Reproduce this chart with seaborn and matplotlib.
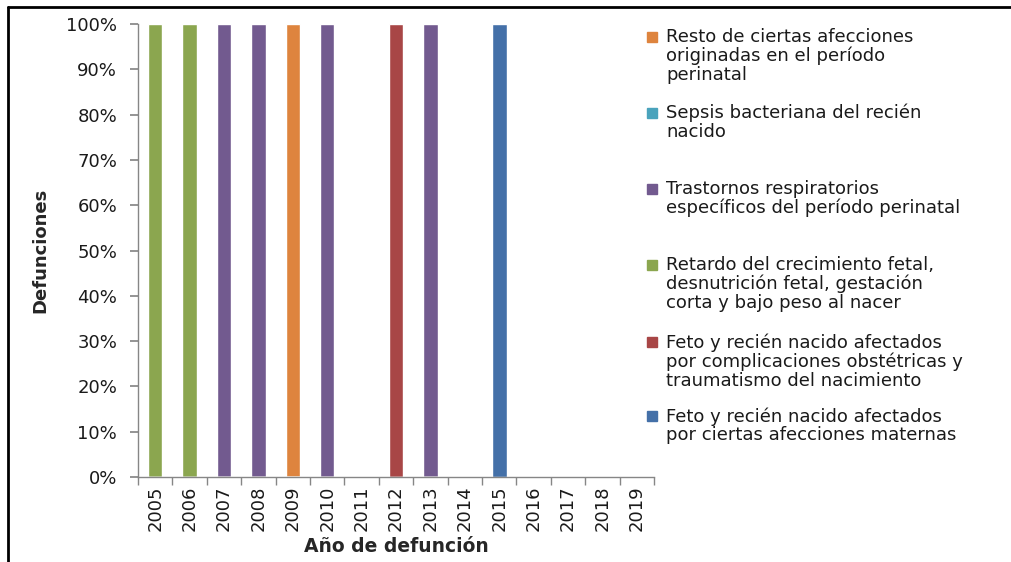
import numpy as np
import pandas as pd
import seaborn as sns
import matplotlib.pyplot as plt
from matplotlib.lines import Line2D
from matplotlib.patches import Rectangle
from matplotlib.ticker import PercentFormatter

years = [str(y) for y in range(2005, 2020)]

# defunciones por causa y año (stack order: bottom -> top)
feto_maternas = [0, 0, 0, 0, 0, 0, 0, 0, 0, 0, 1, 0, 0, 0, 0]
feto_complic = [0, 0, 0, 0, 0, 0, 0, 1, 0, 0, 0, 0, 0, 0, 0]
retardo = [1, 1, 0, 0, 0, 0, 0, 0, 0, 0, 0, 0, 0, 0, 0]
trastornos = [0, 0, 1, 1, 0, 1, 0, 0, 1, 0, 0, 0, 0, 0, 0]
sepsis = [0, 0, 0, 0, 0, 0, 0, 0, 0, 0, 0, 0, 0, 0, 0]
resto = [0, 0, 0, 0, 1, 0, 0, 0, 0, 0, 0, 0, 0, 0, 0]

labels = [
    "Feto y recién nacido afectados\npor ciertas afecciones maternas",
    "Feto y recién nacido afectados\npor complicaciones obstétricas y\ntraumatismo del nacimiento",
    "Retardo del crecimiento fetal,\ndesnutrición fetal, gestación\ncorta y bajo peso al nacer",
    "Trastornos respiratorios\nespecíficos del período perinatal",
    "Sepsis bacteriana del recién\nnacido",
    "Resto de ciertas afecciones\noriginadas en el período\nperinatal",
]
colors = ["#4470A8", "#A84646", "#8BA64F", "#725A8F", "#4AA3BC", "#DE843E"]

df = pd.DataFrame(
    {
        labels[0]: feto_maternas,
        labels[1]: feto_complic,
        labels[2]: retardo,
        labels[3]: trastornos,
        labels[4]: sepsis,
        labels[5]: resto,
    },
    index=years,
)
totals = df.sum(axis=1).replace(0, np.nan)
pct = df.div(totals, axis=0).fillna(0) * 100
cum = pct.cumsum(axis=1)

sns.set_theme(style="white")
plt.rcParams["font.family"] = ["DejaVu Sans"]

fig = plt.figure(figsize=(10.11, 5.62), dpi=100)
ax = fig.add_axes([0.1365, 0.1512, 0.5105, 0.8061])

# draw tallest cumulative first so lower segments sit on top
for i in range(len(labels) - 1, -1, -1):
    sns.barplot(x=years, y=cum.iloc[:, i].values, order=years, color=colors[i],
                width=0.42, saturation=1, ax=ax)

ax.set_ylim(0, 100)
ax.set_xlim(-0.5, len(years) - 0.5)
ax.set_yticks(np.arange(0, 101, 10))
ax.yaxis.set_major_formatter(PercentFormatter(decimals=0))
ax.set_xticks(range(len(years)))
ax.set_xticklabels(years, rotation=90)
ax.set_xticks(np.arange(-0.5, len(years), 1), minor=True)

for s in ["top", "right"]:
    ax.spines[s].set_visible(False)
for s in ["left", "bottom"]:
    ax.spines[s].set_color("#868686")
    ax.spines[s].set_linewidth(1)

ax.tick_params(axis="y", which="major", direction="out", length=6, color="#868686",
               left=True, labelsize=13, pad=9, labelcolor="#1a1a1a")
ax.tick_params(axis="x", which="major", length=0, labelsize=13, pad=6, labelcolor="#1a1a1a")
ax.tick_params(axis="x", which="minor", direction="out", length=6, color="#868686", bottom=True)

ax.set_xlabel("Año de defunción", fontsize=13.5, fontweight="bold", labelpad=4)
ax.set_ylabel("Defunciones", fontsize=13, fontweight="bold", labelpad=12)

# legend, top to bottom as in the original
leg_y = [37, 113, 189, 265, 342, 416]
W, H = 1011, 562
for k, i in enumerate(range(len(labels) - 1, -1, -1)):
    y = leg_y[k]
    fig.patches.append(Rectangle((647 / W, 1 - (y + 5) / H), 10 / W, 10 / H,
                                 transform=fig.transFigure, color=colors[i]))
    fig.text(666 / W, 1 - (y - 9) / H, labels[i], ha="left", va="top",
             fontsize=13, color="#1a1a1a", linespacing=1.06)

# frame lines on top and left
fig.add_artist(Line2D([8 / W, 1], [1 - 7 / H, 1 - 7 / H], transform=fig.transFigure,
                      color="black", lw=2))
fig.add_artist(Line2D([8 / W, 8 / W], [0, 1 - 7 / H], transform=fig.transFigure,
                      color="black", lw=2))

fig.savefig("out.png", dpi=100)
